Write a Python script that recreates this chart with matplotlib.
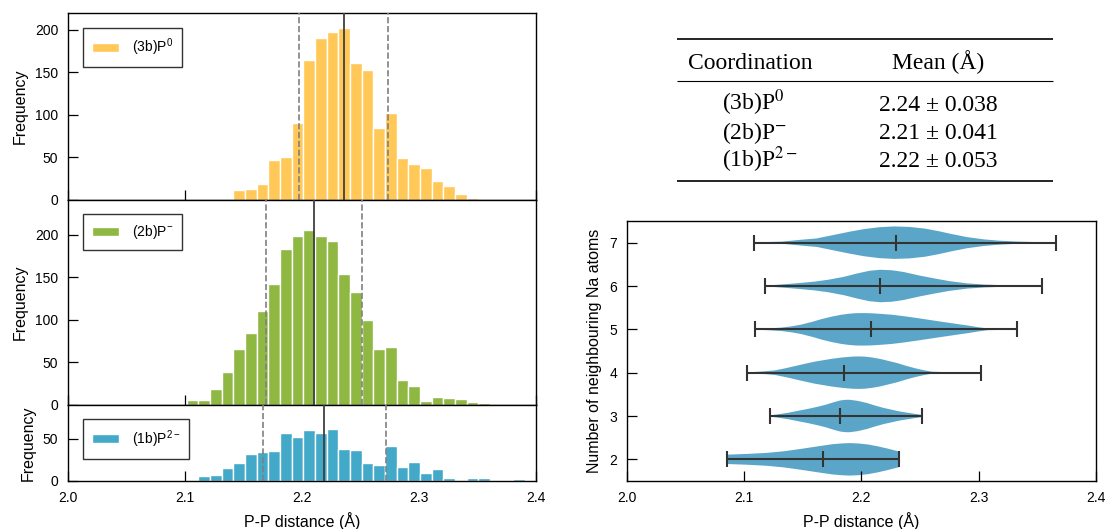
import numpy as np
import matplotlib
matplotlib.use("Agg")
import matplotlib.pyplot as plt

# ---------------- data ----------------
bin_width = 0.00997

hist_labels = ["(3b)P$^0$", "(2b)P$^{-}$", "(1b)P$^{2-}$"]
hist_colors = ["#ffc857", "#8fb843", "#42a9c9"]

p0_start = 2.1313
p0_counts = [1, 12, 13, 19, 47, 50, 90, 165, 190, 198, 202, 161, 153, 85, 102,
             49, 42, 38, 22, 16, 7, 2, 0, 1]
p1_start = 2.1014
p1_counts = [5, 5, 18, 38, 65, 84, 110, 142, 183, 198, 206, 199, 193, 154, 132,
             100, 65, 68, 29, 22, 4, 9, 8, 7, 3, 2]
p2_start = 2.1114
p2_counts = [6, 7, 15, 21, 32, 34, 35, 56, 52, 60, 56, 61, 38, 36, 21, 19, 41,
             17, 22, 10, 14, 4, 0, 3, 3, 0, 0, 2]

hist_means = [2.2356, 2.2103, 2.2190]
hist_stds = [0.0378, 0.0411, 0.0527]
hist_ylims = [220, 241, 90]
hist_yticks = [[0, 50, 100, 150, 200], [0, 50, 100, 150, 200], [0, 50]]

# table
table_header = ["Coordination", "Mean (\u00c5)"]
table_coord = ["(3b)P$^{0}$", "(2b)P$^{-}$", "(1b)P$^{2-}$"]
table_mean = [2.24, 2.21, 2.22]
table_std = [0.038, 0.041, 0.053]

# violins (number of neighbouring Na atoms)
na_positions = [2, 3, 4, 5, 6, 7]
na_min = [2.0852, 2.1221, 2.1028, 2.1093, 2.1179, 2.1088]
na_max = [2.2323, 2.2514, 2.3020, 2.3324, 2.3537, 2.3655]
na_mean = [2.1673, 2.1818, 2.1855, 2.2080, 2.2160, 2.2296]
na_coords = [
    [2.0852, 2.102, 2.119, 2.134, 2.148, 2.162, 2.176, 2.184, 2.190, 2.198, 2.206, 2.213, 2.222, 2.2323],
    [2.1221, 2.137, 2.155, 2.163, 2.170, 2.177, 2.182, 2.186, 2.190, 2.197, 2.205, 2.212, 2.219, 2.233, 2.2514],
    [2.1028, 2.115, 2.126, 2.136, 2.146, 2.160, 2.175, 2.184, 2.192, 2.198, 2.203, 2.210, 2.217, 2.224,
     2.231, 2.238, 2.246, 2.253, 2.260, 2.274, 2.3020],
    [2.1093, 2.121, 2.132, 2.141, 2.149, 2.158, 2.166, 2.175, 2.183, 2.189, 2.195, 2.202, 2.209, 2.217,
     2.226, 2.236, 2.246, 2.257, 2.268, 2.280, 2.291, 2.300, 2.308, 2.3324],
    [2.1179, 2.132, 2.147, 2.160, 2.172, 2.185, 2.197, 2.207, 2.216, 2.226, 2.236, 2.250, 2.262, 2.275,
     2.290, 2.305, 2.320, 2.3537],
    [2.1088, 2.132, 2.148, 2.162, 2.176, 2.190, 2.202, 2.215, 2.228, 2.241, 2.254, 2.266, 2.277, 2.290,
     2.304, 2.317, 2.332, 2.345, 2.3655],
]
na_density = [
    [4.5, 5.2, 6.2, 7.8, 10.0, 12.4, 14.7, 15.4, 15.7, 15.3, 14.3, 12.8, 10.5, 7.5],
    [0.5, 3.0, 7.0, 9.0, 11.0, 13.5, 15.0, 15.6, 15.7, 14.6, 12.5, 10.0, 7.8, 4.3, 1.0],
    [0.3, 1.1, 2.2, 4.5, 7.2, 10.8, 13.7, 15.0, 15.8, 16.0, 15.8, 14.8, 13.3, 11.3,
     9.3, 6.8, 4.3, 2.5, 1.0, 0.4, 0.2],
    [0.3, 0.9, 1.7, 3.0, 4.7, 7.3, 10.0, 12.5, 14.3, 15.2, 15.8, 15.9, 15.7, 15.1,
     14.3, 12.9, 11.3, 9.4, 7.5, 5.5, 3.7, 2.0, 0.8, 0.3],
    [0.3, 1.5, 2.9, 4.3, 6.2, 9.0, 12.5, 15.0, 16.0, 15.5, 13.8, 10.2, 7.5, 4.8,
     2.6, 1.4, 0.8, 0.3],
    [0.3, 1.0, 2.8, 4.2, 7.5, 10.8, 13.3, 15.2, 16.0, 15.5, 13.9, 11.3, 8.5, 5.5,
     3.3, 2.0, 1.1, 0.7, 0.3],
]
violin_color = "#5ba6c8"

# ---------------- style ----------------
plt.rcParams["font.family"] = ["Liberation Sans", "DejaVu Sans"]
plt.rcParams["mathtext.fontset"] = "custom"
plt.rcParams["mathtext.rm"] = "Liberation Sans"
plt.rcParams["mathtext.it"] = "Liberation Sans:italic"
plt.rcParams["mathtext.bf"] = "Liberation Sans:bold"
plt.rcParams["axes.linewidth"] = 1.0
plt.rcParams["xtick.direction"] = "in"
plt.rcParams["ytick.direction"] = "in"
plt.rcParams["xtick.major.size"] = 7
plt.rcParams["ytick.major.size"] = 7
plt.rcParams["xtick.major.width"] = 0.9
plt.rcParams["ytick.major.width"] = 0.9
plt.rcParams["xtick.major.pad"] = 7
plt.rcParams["ytick.major.pad"] = 7
plt.rcParams["xtick.labelsize"] = 10
plt.rcParams["ytick.labelsize"] = 10
plt.rcParams["axes.labelsize"] = 11.5

W, H = 1109, 529
fig = plt.figure(figsize=(W / 100, H / 100), dpi=100)

# histogram panels
left, right = 68 / W, 536 / W
top, bottom = 1 - 13 / H, 1 - 481 / H
gs = fig.add_gridspec(3, 1, left=left, right=right, top=top, bottom=bottom,
                      hspace=0.0, height_ratios=hist_ylims)
starts = [p0_start, p1_start, p2_start]
counts_all = [p0_counts, p1_counts, p2_counts]
axes = []
for i in range(3):
    ax = fig.add_subplot(gs[i, 0], sharex=axes[0] if axes else None)
    axes.append(ax)
    cnt = np.array(counts_all[i])
    edges = starts[i] + bin_width * np.arange(len(cnt))
    ax.bar(edges, cnt, width=bin_width, align="edge", color=hist_colors[i],
           edgecolor="white", linewidth=1.0, label=hist_labels[i], zorder=2)
    m, s = hist_means[i], hist_stds[i]
    ax.axvline(m, color="#404040", lw=1.3, zorder=3)
    ax.axvline(m - s, color="#808080", lw=1.2, ls="--", zorder=3)
    ax.axvline(m + s, color="#808080", lw=1.2, ls="--", zorder=3)
    ax.set_ylim(0, hist_ylims[i])
    ax.set_yticks(hist_yticks[i])
    ax.set_ylabel("Frequency", labelpad=5)
    ax.tick_params(top=False, right=False)
    leg = ax.legend(loc="upper left", fontsize=10, fancybox=False, framealpha=1,
                    edgecolor="#333333", borderaxespad=1.05, borderpad=0.65,
                    handlelength=2.0, handleheight=0.6, handletextpad=0.9)
    leg.get_frame().set_linewidth(1.0)
    if i < 2:
        ax.tick_params(labelbottom=False)
axes[0].set_xlim(2.0, 2.4)
axes[0].set_xticks([2.0, 2.1, 2.2, 2.3, 2.4])
axes[2].set_xticklabels(["2.0", "2.1", "2.2", "2.3", "2.4"])
axes[2].set_xlabel("P-P distance (\u00c5)", labelpad=5)

# violin panel
vax = fig.add_axes([626.7 / W, 1 - 481 / H, (1096 - 626.7) / W, (481 - 221) / H])
vpstats = []
for c, d, mn, mx, me in zip(na_coords, na_density, na_min, na_max, na_mean):
    vpstats.append({"coords": np.array(c), "vals": np.array(d), "mean": me,
                    "median": me, "min": mn, "max": mx})
try:
    parts = vax.violin(vpstats, positions=na_positions, orientation="horizontal",
                       widths=0.75, showmeans=True, showextrema=True, showmedians=False)
except TypeError:
    parts = vax.violin(vpstats, positions=na_positions, vert=False,
                       widths=0.75, showmeans=True, showextrema=True, showmedians=False)
for b in parts["bodies"]:
    b.set_facecolor(violin_color)
    b.set_edgecolor("none")
    b.set_alpha(1.0)
for key in ["cbars", "cmins", "cmaxes", "cmeans"]:
    if key in parts:
        parts[key].set_color("#333333")
        parts[key].set_linewidth(1.5)
vax.set_xlim(2.0, 2.4)
vax.set_xticks([2.0, 2.1, 2.2, 2.3, 2.4])
vax.set_ylim(1.5, 7.5)
vax.set_yticks(na_positions)
vax.tick_params(top=False, right=False)
vax.set_xlabel("P-P distance (\u00c5)", labelpad=5)
vax.set_ylabel("Number of neighbouring Na atoms", labelpad=5)

# table
tax = fig.add_axes([0, 0, 1, 1])
tax.set_xlim(0, W)
tax.set_ylim(H, 0)
tax.axis("off")
tx0, tx1 = 677, 1053
tax.hlines([39, 181], tx0, tx1, color="black", lw=1.2)
tax.hlines([81], tx0, tx1, color="black", lw=0.8)
serif = ["Liberation Serif", "DejaVu Serif"]
fs = 17
col1_x, col2_x = 750, 938
tax.text(col1_x, 69, table_header[0], ha="center", va="baseline", fontsize=fs,
         family=serif, math_fontfamily="stix")
tax.text(col2_x, 69, table_header[1], ha="center", va="baseline", fontsize=fs,
         family=serif, math_fontfamily="stix")
row_y = [110.7, 139, 167]
for lab, m, s, y in zip(table_coord, table_mean, table_std, row_y):
    tax.text(722, y, lab, ha="left", va="baseline", fontsize=fs, family=serif,
             math_fontfamily="stix")
    tax.text(col2_x, y, f"{m:.2f} \u00b1 {s:.3f}", ha="center", va="baseline",
             fontsize=fs, family=serif, math_fontfamily="stix")

fig.savefig("out.png", dpi=100)
